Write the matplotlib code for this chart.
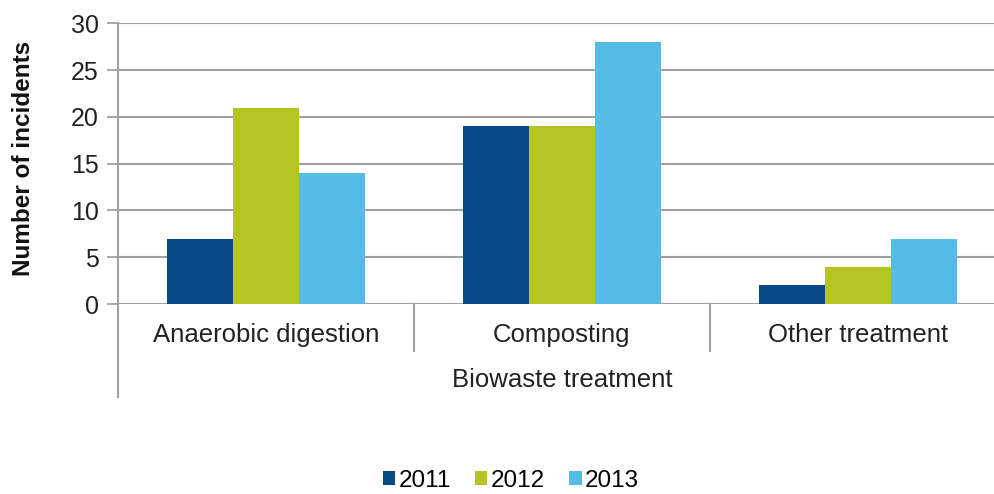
import matplotlib
matplotlib.use("Agg")
import matplotlib.pyplot as plt
from matplotlib.patches import Patch
import numpy as np

categories = ["Anaerobic digestion", "Composting", "Other treatment"]
years = ["2011", "2012", "2013"]
values_2011 = [7, 19, 2]
values_2012 = [21, 19, 4]
values_2013 = [14, 28, 7]
series = [values_2011, values_2012, values_2013]
colors = ["#084A87", "#B4C424", "#56BCE6"]
yticks = [0, 5, 10, 15, 20, 25, 30]
xlabel = "Biowaste treatment"
ylabel = "Number of incidents"

plt.rcParams['font.family'] = ['Liberation Sans', 'DejaVu Sans']

fig = plt.figure(figsize=(9.95, 4.94), dpi=100)
ax = fig.add_axes([118/995, 1-304/494, (1006-118)/995, (304-23.3)/494])

x = np.arange(len(categories))
w = 0.222
for i, (vals, c) in enumerate(zip(series, colors)):
    ax.bar(x + (i-1)*w, vals, width=w, color=c, zorder=3, label=years[i])

ax.set_xlim(-0.5, len(categories)-0.5)
ax.set_ylim(0, 30)
ax.set_yticks(yticks)
ax.set_yticklabels([str(t) for t in yticks], fontsize=18, color="#222222")
ax.tick_params(axis='y', length=8, width=1.3, color="#A0A0A0", pad=6)
ax.set_xticks([])
for s in ax.spines.values():
    s.set_visible(False)
ax.yaxis.grid(True, color="#A0A0A0", linewidth=1.5, zorder=0)
ax.set_axisbelow(True)

xt = ax.get_xaxis_transform()
grey = "#A0A0A0"
# left axis line extending below
ax.plot([-0.5, -0.5], [1.0, -0.33], transform=xt, color=grey, lw=1.5, clip_on=False, zorder=4)
# category separators
for b in np.arange(len(categories)-1) + 0.5:
    ax.plot([b, b], [0, -0.167], transform=xt, color=grey, lw=1.5, clip_on=False)

for i, cat in enumerate(categories):
    ax.text(i, -0.110, cat, transform=xt, ha='center', va='center', fontsize=18.5, color="#222222")
ax.text(0.5, -0.271, xlabel, transform=ax.transAxes, ha='center', va='center', fontsize=18.5, color="#222222")

fig.text(24/995, 1-158/494, ylabel, rotation=90, ha='center', va='center', fontsize=17.5, fontweight='bold', color="#111111")

handles = [Patch(facecolor=c, edgecolor='none') for c in colors]
fig.legend(handles, years, loc='center', bbox_to_anchor=(511/995, 1-481/494), ncol=3,
           frameon=False, fontsize=17.5, handlelength=0.5, handleheight=0.5,
           handletextpad=0.15, columnspacing=1.0, borderpad=0.2)

fig.savefig("out.png", dpi=100)
